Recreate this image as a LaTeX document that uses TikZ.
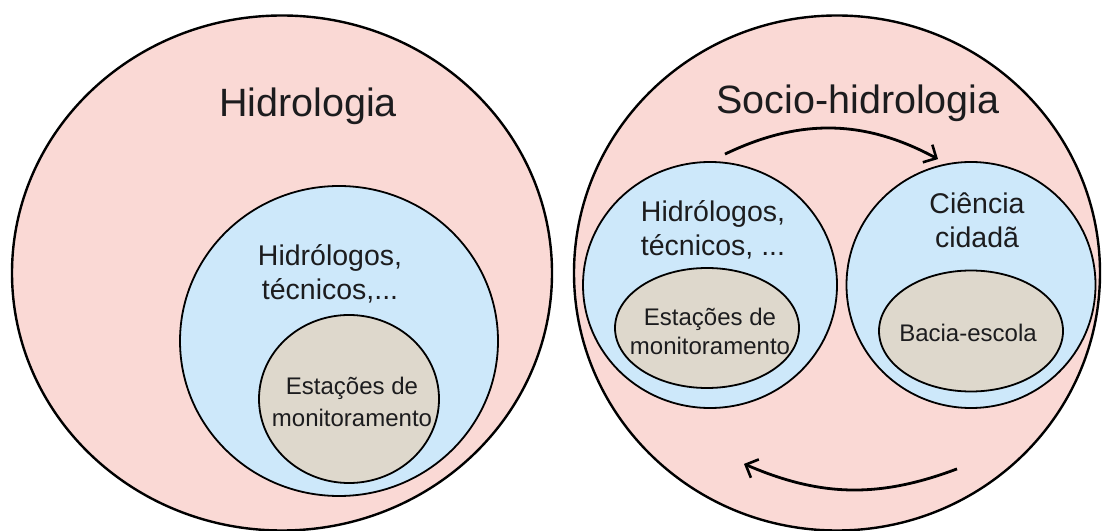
\documentclass[tikz,border=0pt]{standalone}
\usepackage{fontspec}
\setmainfont{Liberation Sans}
\usetikzlibrary{arrows.meta,positioning,calc,shapes.geometric}
\definecolor{rosa}{RGB}{250,217,213}
\definecolor{azul}{RGB}{205,232,250}
\definecolor{bege}{RGB}{222,216,204}
\definecolor{tinta}{RGB}{28,28,30}

\begin{document}
\begin{tikzpicture}[x=1pt, y=1pt,
    area/.style={draw, ellipse, inner sep=0pt, line width=2.4pt, fill=rosa},
    grupo/.style={draw, ellipse, inner sep=0pt, line width=1.8pt, fill=azul},
    dados/.style={draw, ellipse, inner sep=0pt, line width=1.8pt, fill=bege},
    titulo/.style={text=tinta, font=\fontsize{39.5}{47}\selectfont},
    rotulo/.style={text=tinta, align=center, font=\fontsize{28.5}{34}\selectfont},
    miudo/.style={text=tinta, align=center, font=\fontsize{24}{29}\selectfont},
    arr/.style={-{Straight Barb[length=10pt, width=20pt, line width=2.6pt]}, line width=2.8pt}
]
\useasboundingbox (0,0) rectangle (1102,530);

\node[area, minimum width=540pt, minimum height=515pt] (hid) at (282,257) {};
\node[grupo, minimum width=318pt, minimum height=310pt] (tecL) at (339,189) {};
\node[dados, minimum width=180pt, minimum height=168pt] (estL) at (349,131) {};
\node[titulo] (tHid) at (308,424) {Hidrologia};
\node[rotulo] (tTecL) at (330,256) {Hidrólogos,\\técnicos,...};
\node[miudo, font=\fontsize{24}{32}\selectfont] (tEstL) at (352,128) {Estações de\\monitoramento};

\node[area, minimum width=526pt, minimum height=515pt] (soc) at (837,257) {};
\node[grupo, minimum width=254pt, minimum height=246pt] (tecR) at (710,245) {};
\node[dados, minimum width=184pt, minimum height=120pt] (estR) at (707,202) {};
\node[grupo, minimum width=249pt, minimum height=246pt] (cid) at (971,245) {};
\node[dados, minimum width=184pt, minimum height=121pt] (bac) at (971,199) {};
\node[titulo] (tSoc) at (858,427) {Socio-hidrologia};
\node[rotulo] (tTecR) at (713,300) {Hidrólogos,\\técnicos, ...};
\node[miudo] (tEstR) at (710,199) {Estações de\\monitoramento};
\node[rotulo] (tCid) at (977,310) {Ciência\\cidadã};
\node[miudo] (tBac) at (968,197) {Bacia-escola};

\coordinate (ida1) at ($(tecR.north)+(15,7)$);
\coordinate (ida2) at ($(cid.north)+(-33,2)$);
\coordinate (volta1) at ($(cid.south)+(-14,-60)$);
\coordinate (volta2) at ($(tecR.south)+(34,-55)$);
\draw[arr] (ida1) to[bend left=27] (ida2);
\draw[arr] (volta1) to[bend left=22] (volta2);
\end{tikzpicture}
\end{document}
